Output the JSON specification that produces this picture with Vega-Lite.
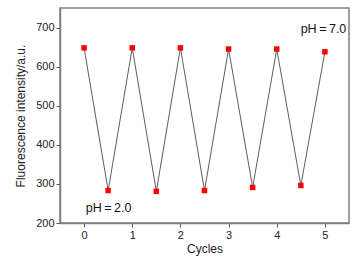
{
  "$schema": "https://vega.github.io/schema/vega-lite/v6.json",
  "autosize": "none",
  "width": 289,
  "height": 215,
  "padding": {"left": 60, "top": 8, "right": 15, "bottom": 40},
  "background": "white",
  "config": {
    "font": "Liberation Sans",
    "view": {"stroke": "#7f7f7f", "strokeWidth": 1.5},
    "axis": {
      "grid": false,
      "domainColor": "#7f7f7f",
      "domainWidth": 1.5,
      "tickColor": "#555555",
      "tickSize": 4,
      "labelFont": "Liberation Sans",
      "titleFont": "Liberation Sans",
      "labelFontSize": 11,
      "titleFontSize": 12,
      "titleFontWeight": "normal",
      "labelColor": "#222222",
      "titleColor": "#222222"
    }
  },
  "datasets": {
    "pts": [
      {"cycle": 0, "intensity": 648},
      {"cycle": 0.5, "intensity": 283},
      {"cycle": 1, "intensity": 648},
      {"cycle": 1.5, "intensity": 281},
      {"cycle": 2, "intensity": 648},
      {"cycle": 2.5, "intensity": 283},
      {"cycle": 3, "intensity": 645},
      {"cycle": 3.5, "intensity": 291},
      {"cycle": 4, "intensity": 645},
      {"cycle": 4.5, "intensity": 296},
      {"cycle": 5, "intensity": 638}
    ],
    "notes": [
      {"cycle": 4.97, "intensity": 697, "label": "pH\u2009=\u20097.0"},
      {"cycle": 0.51, "intensity": 239, "label": "pH\u2009=\u20092.0"}
    ]
  },
  "layer": [
    {
      "data": {"name": "pts"},
      "mark": {"type": "line", "color": "#333333", "strokeWidth": 0.8},
      "encoding": {
        "x": {
          "field": "cycle", "type": "quantitative",
          "scale": {"domain": [-0.5, 5.5], "nice": false, "zero": false},
          "axis": {
            "title": "Cycles",
            "values": [0, 0.5, 1, 1.5, 2, 2.5, 3, 3.5, 4, 4.5, 5],
            "labelExpr": "datum.value % 1 == 0 ? datum.label : ''",
            "labelPadding": 2,
            "titlePadding": 3
          }
        },
        "y": {
          "field": "intensity", "type": "quantitative",
          "scale": {"domain": [200, 750], "nice": false, "zero": false},
          "axis": {
            "title": "Fluorescence intensity/a.u.",
            "values": [200, 250, 300, 350, 400, 450, 500, 550, 600, 650, 700],
            "labelExpr": "datum.value % 100 == 0 ? datum.label : ''",
            "labelPadding": 2,
            "titlePadding": 8
          }
        }
      }
    },
    {
      "data": {"name": "pts"},
      "mark": {"type": "point", "shape": "square", "filled": true, "color": "#ff0000", "opacity": 1, "size": 30},
      "encoding": {
        "x": {"field": "cycle", "type": "quantitative"},
        "y": {"field": "intensity", "type": "quantitative"}
      }
    },
    {
      "data": {"name": "notes"},
      "mark": {"type": "text", "fontSize": 12.5, "align": "center", "baseline": "middle", "color": "#111111", "font": "Liberation Sans"},
      "encoding": {
        "x": {"field": "cycle", "type": "quantitative"},
        "y": {"field": "intensity", "type": "quantitative"},
        "text": {"field": "label"}
      }
    }
  ]
}
